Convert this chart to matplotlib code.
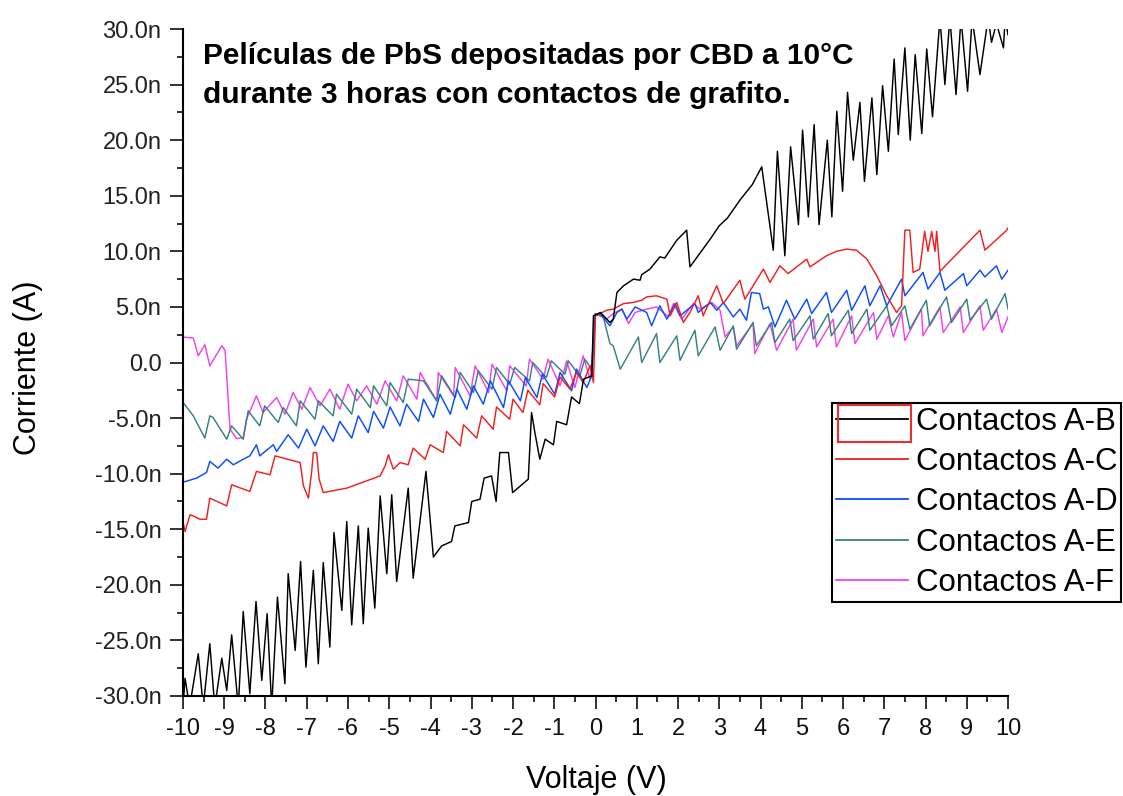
import matplotlib
matplotlib.use("Agg")
import matplotlib.pyplot as plt
from matplotlib.ticker import MultipleLocator, FuncFormatter
from matplotlib.patches import Rectangle

plt.rcParams['font.family'] = ['Liberation Sans', 'DejaVu Sans']
plt.rcParams['axes.unicode_minus'] = False

# ---------------- data (V in volts, I in nA) ----------------
ab_v = [-10.0, -9.95, -9.84, -9.63, -9.51, -9.35, -9.23, -9.06, -8.94, -8.82, -8.66, -8.54, -8.38, -8.23,
        -8.09, -7.96, -7.85, -7.71, -7.53, -7.45, -7.28, -7.15, -7.02, -6.84, -6.72, -6.60, -6.44, -6.34,
        -6.15, -6.03, -5.91, -5.75, -5.63, -5.51, -5.35, -5.22, -5.06, -4.94, -4.82, -4.54, -4.42, -4.11,
        -3.93, -3.73, -3.49, -3.41, -3.08, -3.00, -2.80, -2.70, -2.52, -2.41, -2.32, -2.11, -2.01, -1.63,
        -1.55, -1.47, -1.35, -1.22, -1.02, -0.94, -0.70, -0.58, -0.39, -0.29, -0.09, -0.05, 0.12, 0.35,
        0.43, 0.52, 0.68, 0.92, 1.08, 1.12, 1.32, 1.56, 1.68, 1.97, 2.21, 2.29, 2.80, 3.00, 3.20, 3.50,
        3.80, 4.03, 4.31, 4.41, 4.59, 4.73, 4.92, 5.02, 5.16, 5.30, 5.42, 5.62, 5.73, 5.85, 5.99, 6.11,
        6.25, 6.41, 6.52, 6.70, 6.82, 6.96, 7.10, 7.24, 7.34, 7.50, 7.63, 7.75, 7.91, 8.03, 8.17, 8.35,
        8.47, 8.59, 8.74, 8.86, 9.02, 9.13, 9.32, 9.52, 9.60, 9.72, 9.89, 9.93, 10.0]
ab_i = [-31.0, -28.4, -31.0, -26.2, -31.0, -25.3, -31.0, -26.6, -29.5, -24.5, -31.0, -22.4, -29.8, -21.5,
        -28.6, -22.6, -31.0, -21.1, -28.9, -19.0, -25.9, -17.9, -27.4, -18.7, -27.1, -18.0, -25.6, -15.3,
        -22.3, -14.3, -23.6, -14.7, -23.5, -14.9, -22.1, -12.0, -19.0, -11.9, -19.7, -11.3, -19.4, -9.8,
        -17.5, -16.5, -16.1, -14.7, -14.4, -12.5, -12.3, -10.4, -10.2, -12.5, -8.1, -8.1, -11.7, -10.5,
        -4.5, -6.3, -8.7, -6.9, -7.4, -5.3, -5.6, -3.1, -3.7, -1.5, -1.2, 4.2, 4.5, 3.6,
        3.9, 6.3, 6.9, 7.5, 7.4, 7.9, 8.4, 9.5, 9.4, 11.0, 11.9, 8.6, 11.2, 12.3, 13.0, 14.6,
        16.0, 17.6, 10.1, 19.0, 9.6, 19.4, 12.4, 20.9, 13.1, 21.4, 12.4, 20.0, 13.1, 22.6, 15.4, 24.3,
        18.2, 23.4, 16.3, 23.8, 16.9, 24.9, 19.0, 27.3, 20.5, 28.3, 20.0, 27.7, 20.6, 28.2, 22.1, 31.0,
        25.0, 31.0, 24.1, 31.0, 24.4, 31.0, 25.9, 31.0, 28.8, 30.5, 28.3, 31.0, 29.5]

ac_v = [-10.03, -9.95, -9.83, -9.75, -9.59, -9.43, -9.35, -8.94, -8.82, -8.38, -8.22, -7.89, -7.77, -7.16,
        -7.08, -6.96, -6.88, -6.84, -6.76, -6.70, -6.60, -6.03, -5.22, -5.10, -5.02, -4.90, -4.74, -4.54,
        -4.42, -4.13, -4.01, -3.69, -3.61, -3.28, -3.20, -2.88, -2.76, -2.48, -2.40, -2.08, -2.00, -1.76,
        -1.64, -1.35, -1.27, -0.99, -0.86, -0.62, -0.46, -0.30, -0.13, -0.05, 0.0, 0.27, 0.43, 0.68,
        0.92, 1.12, 1.24, 1.48, 1.73, 1.81, 1.97, 2.13, 2.29, 2.49, 2.61, 2.94, 3.10, 3.50, 3.62, 4.07,
        4.23, 4.47, 4.67, 5.12, 5.20, 5.60, 5.84, 6.09, 6.33, 6.58, 6.82, 7.06, 7.30, 7.42, 7.50, 7.62,
        7.70, 7.86, 7.98, 8.06, 8.15, 8.23, 8.27, 8.35, 9.32, 9.44, 9.97, 10.0]
ac_i = [-13.8, -15.2, -13.7, -13.8, -14.1, -14.1, -12.2, -12.9, -11.0, -11.6, -9.8, -10.1, -8.4, -9.0,
        -11.1, -12.2, -9.8, -8.1, -8.1, -10.5, -11.7, -11.3, -10.2, -9.3, -8.3, -9.6, -9.0, -9.2,
        -7.7, -8.7, -7.4, -8.1, -6.2, -7.5, -5.6, -6.8, -4.8, -6.0, -4.0, -5.1, -3.3, -4.5,
        -2.5, -3.8, -1.9, -3.1, -1.3, -2.4, -0.9, -1.8, -0.3, -1.8, 4.2, 4.7, 4.8, 5.3,
        5.4, 5.6, 5.9, 6.0, 5.7, 4.2, 5.4, 3.6, 4.5, 6.0, 4.2, 6.9, 5.3, 7.4, 5.7, 8.4,
        7.2, 8.7, 8.0, 9.3, 8.6, 9.6, 10.0, 10.2, 10.1, 9.3, 7.8, 6.0, 4.5, 5.1, 11.9, 11.9,
        8.1, 8.4, 11.8, 10.0, 11.8, 10.0, 11.8, 8.2, 11.9, 10.1, 11.9, 12.1]

ad_v = [-10.03, -9.67, -9.43, -9.35, -9.15, -8.94, -8.78, -8.54, -8.38, -8.22, -8.14, -7.81, -7.73, -7.45,
        -7.20, -7.00, -6.80, -6.60, -6.36, -6.20, -5.91, -5.75, -5.51, -5.38, -5.14, -4.98, -4.74, -4.58,
        -4.29, -4.17, -3.93, -3.77, -3.52, -3.36, -3.12, -2.96, -2.72, -2.55, -2.23, -2.11, -1.82, -1.70,
        -1.42, -1.29, -0.99, -0.86, -0.58, -0.46, -0.21, -0.09, -0.01, 0.11, 0.35, 0.52, 0.64, 0.76,
        0.96, 1.24, 1.36, 1.56, 1.73, 1.93, 2.05, 2.41, 2.49, 2.78, 2.94, 3.10, 3.34, 3.50, 3.66, 3.78,
        3.98, 4.07, 4.19, 4.35, 4.63, 4.83, 5.12, 5.24, 5.60, 5.72, 6.09, 6.21, 6.53, 6.65, 6.90, 7.06,
        7.42, 7.50, 7.94, 8.06, 8.35, 8.47, 8.92, 9.00, 9.32, 9.44, 9.72, 9.85, 10.0]
ad_i = [-10.8, -10.4, -9.9, -8.9, -9.5, -8.7, -9.2, -8.7, -8.4, -7.4, -8.4, -7.4, -8.0, -6.5,
        -7.7, -6.0, -7.5, -5.7, -7.1, -5.3, -6.8, -4.8, -6.3, -4.4, -5.9, -4.0, -5.7, -3.75,
        -5.3, -3.3, -4.95, -2.85, -4.65, -2.4, -4.2, -2.1, -3.75, -1.65, -4.05, -1.65, -3.45, -1.35,
        -3.15, -1.05, -2.85, -0.9, -2.55, -0.6, -2.25, -1.2, 4.2, 4.4, 3.3, 4.5, 4.8, 3.9,
        5.0, 4.5, 3.3, 5.1, 3.9, 5.3, 4.2, 5.3, 4.5, 5.4, 4.7, 5.4, 4.1, 4.8, 3.8, 6.3,
        6.2, 4.8, 5.0, 3.2, 5.6, 3.9, 5.7, 4.4, 6.3, 4.5, 6.5, 4.7, 6.9, 5.1, 6.9, 5.1,
        7.5, 6.0, 8.1, 6.6, 8.1, 6.5, 8.0, 6.9, 8.3, 7.7, 8.7, 7.5, 8.3]

ae_v = [-10.03, -9.75, -9.47, -9.35, -9.27, -8.94, -8.82, -8.54, -8.42, -8.14, -8.02, -7.69, -7.57, -7.25,
        -7.16, -6.80, -6.72, -6.36, -6.28, -5.91, -5.79, -5.46, -5.38, -5.06, -4.98, -4.66, -4.54, -4.17,
        -3.85, -3.73, -3.40, -3.28, -2.96, -2.84, -2.51, -2.40, -2.08, -1.96, -1.60, -1.52, -1.19, -1.07,
        -0.74, -0.66, -0.38, -0.26, -0.09, -0.01, 0.19, 0.35, 0.43, 0.60, 1.04, 1.12, 1.48, 1.56,
        1.97, 2.05, 2.41, 2.49, 2.90, 3.02, 3.34, 3.42, 3.82, 3.90, 4.27, 4.35, 4.71, 4.79, 5.20, 5.28,
        5.64, 5.72, 6.13, 6.21, 6.58, 6.65, 7.06, 7.18, 7.50, 7.62, 8.02, 8.10, 8.51, 8.63, 9.00, 9.08,
        9.48, 9.60, 9.93, 10.0]
ae_i = [-3.45, -4.8, -6.8, -4.8, -4.95, -6.9, -5.7, -6.9, -4.35, -5.7, -3.9, -5.4, -4.05, -5.7,
        -3.45, -5.1, -3.45, -4.8, -2.85, -4.65, -2.4, -4.05, -2.1, -3.9, -1.8, -3.6, -1.5, -1.65,
        -3.45, -1.2, -3.15, -0.9, -2.7, -0.75, -2.4, -0.45, -1.95, -0.45, -1.65, 0.0, -1.35, 0.15,
        -1.05, 0.15, -1.2, 0.3, -0.6, 4.4, 4.1, 1.7, 1.5, -0.6, 2.3, 0.0, 2.6, 0.0,
        2.4, 0.2, 2.9, 0.6, 3.2, 1.1, 3.3, 1.2, 3.6, 1.5, 3.6, 1.8, 3.9, 1.97, 4.2, 2.1,
        4.4, 2.4, 4.7, 2.6, 4.8, 2.9, 5.1, 3.3, 5.1, 3.0, 5.6, 3.3, 5.9, 3.6, 5.7, 3.8,
        5.7, 3.9, 6.2, 4.8]

af_v = [-10.03, -9.75, -9.63, -9.47, -9.35, -9.06, -8.98, -8.86, -8.70, -8.54, -8.46, -8.22, -8.06, -7.73,
        -7.53, -7.33, -7.12, -6.92, -6.68, -6.44, -6.20, -6.00, -5.79, -5.55, -5.30, -5.10, -4.82, -4.66,
        -4.33, -4.25, -3.85, -3.81, -3.44, -3.40, -3.04, -2.92, -2.59, -2.51, -2.15, -2.08, -1.68, -1.60,
        -1.27, -1.15, -0.86, -0.70, -0.50, -0.30, -0.13, -0.05, 0.0, 0.27, 0.43, 0.64, 0.80, 0.96,
        1.24, 1.48, 1.77, 1.89, 2.09, 2.37, 2.53, 2.82, 3.02, 3.14, 3.34, 3.42, 3.82, 3.86, 4.23, 4.39,
        4.79, 4.87, 5.28, 5.36, 5.76, 5.84, 6.21, 6.29, 6.74, 6.82, 7.10, 7.22, 7.42, 7.50, 7.90, 7.94,
        8.35, 8.43, 8.84, 8.92, 9.32, 9.40, 9.72, 9.85, 10.0]
af_i = [2.3, 2.2, 0.6, 1.6, -0.3, 1.5, 1.1, -6.0, -6.85, -6.75, -5.1, -3.0, -4.5, -3.15,
        -4.65, -2.7, -4.2, -2.25, -3.9, -2.4, -4.2, -1.95, -3.45, -2.1, -3.75, -1.65, -3.45, -1.2,
        -3.3, -0.9, -3.45, -0.9, -3.0, -0.45, -3.0, -0.3, -2.7, -0.15, -2.55, -0.3, -2.1, 0.3,
        -1.5, 0.3, -2.1, 0.15, -2.25, 0.6, -1.5, 1.8, 4.4, 3.9, 4.4, 4.8, 3.5, 4.5,
        4.8, 5.0, 4.1, 5.3, 3.9, 5.3, 4.8, 5.4, 4.7, 2.3, 3.2, 1.5, 3.5, 0.8, 3.5, 1.1,
        3.9, 1.1, 3.9, 1.4, 3.9, 1.4, 4.2, 1.7, 4.5, 2.1, 4.2, 2.3, 4.5, 1.97, 4.8, 2.4,
        5.0, 2.7, 5.0, 2.7, 5.1, 2.9, 4.8, 2.7, 4.1]

series_labels = ["Contactos A-B", "Contactos A-C", "Contactos A-D", "Contactos A-E", "Contactos A-F"]
series_colors = ["#000000", "#f02020", "#0a4cff", "#3a8080", "#ee44ee"]

x_ticks = list(range(-10, 11))
title_lines = ["Películas de PbS depositadas por CBD a 10°C",
               "durante 3 horas con contactos de grafito."]

# ---------------- figure ----------------
W, H = 1123, 796
fig = plt.figure(figsize=(W / 100, H / 100), dpi=100)
ax = fig.add_axes([183 / W, 100 / H, 825 / W, 667 / H])

series = [(ab_v, ab_i), (ac_v, ac_i), (ad_v, ad_i), (ae_v, ae_i), (af_v, af_i)]
order = [4, 3, 2, 1, 0]
lines = {}
for k in order:
    v, i = series[k]
    ln, = ax.plot(v, i, color=series_colors[k], lw=1.05, label=series_labels[k], zorder=2 + (4 - k) * 0.1)
    lines[k] = ln

ax.set_xlim(-10, 10)
ax.set_ylim(-30, 30)
ax.set_xticks(x_ticks)
ax.xaxis.set_minor_locator(MultipleLocator(0.5))
ax.yaxis.set_major_locator(MultipleLocator(5))
ax.yaxis.set_minor_locator(MultipleLocator(2.5))
ax.yaxis.set_major_formatter(FuncFormatter(lambda y, p: "0.0" if abs(y) < 1e-9 else f"{y:.1f}n"))
ax.xaxis.set_major_formatter(FuncFormatter(lambda x, p: f"{int(round(x))}"))

for s in ['top', 'right']:
    ax.spines[s].set_visible(False)
for s in ['left', 'bottom']:
    ax.spines[s].set_linewidth(1.5)

ax.tick_params(axis='both', which='major', direction='out', length=9.5, width=1.3, color='#222222')
ax.tick_params(axis='both', which='minor', direction='out', length=4.5, width=1.3, color='#222222')
ax.tick_params(axis='x', which='major', labelsize=17, pad=6, labelcolor='#111111')
ax.tick_params(axis='y', which='major', labelsize=17, pad=6, labelcolor='#222222')

# axis labels
fig.text(28 / W, 1 - 368 / H, "Corriente (A)", rotation=90, ha='center', va='center', fontsize=22)
fig.text(596 / W, 1 - 780 / H, "Voltaje (V)", ha='center', va='center', fontsize=22)

# annotation text
fig.text(203 / W, 1 - 64 / H, title_lines[0], ha='left', va='baseline', fontsize=21.5, fontweight='bold')
fig.text(203 / W, 1 - 103 / H, title_lines[1], ha='left', va='baseline', fontsize=21.5, fontweight='bold')

# legend
handles = [lines[k] for k in range(5)]
leg = fig.legend(handles, series_labels, loc='upper left', bbox_to_anchor=(832 / W, 1 - 403 / H),
                 fontsize=22.5, frameon=True, fancybox=False, edgecolor='black', framealpha=1,
                 borderpad=0.12, labelspacing=0.33, handlelength=2.3, handletextpad=0.27,
                 borderaxespad=0)
leg.get_frame().set_linewidth(1.5)
for lh in leg.get_lines():
    lh.set_linewidth(1.3)

fig.add_artist(Rectangle((838 / W, 1 - 442 / H), 73 / W, 37 / H, transform=fig.transFigure,
                         fill=False, edgecolor='#e83030', lw=1.5, zorder=20))

fig.savefig("out.png", dpi=100)
